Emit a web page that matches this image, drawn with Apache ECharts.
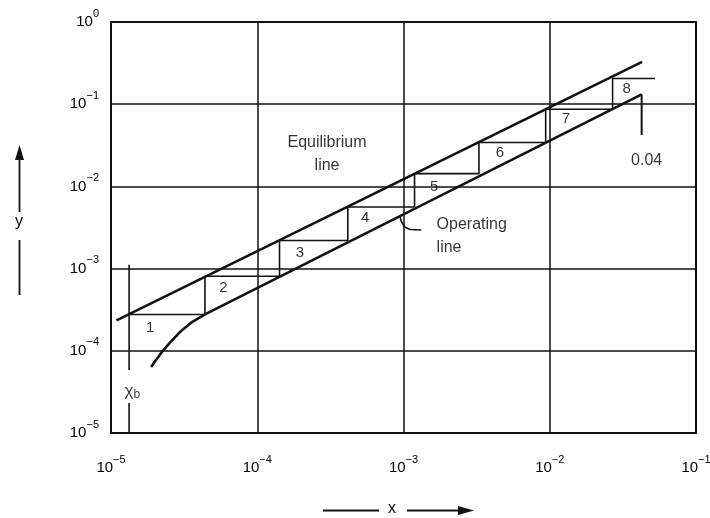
<!DOCTYPE html>
<html><head><meta charset="utf-8">
<script src="https://cdn.jsdelivr.net/npm/echarts@6/dist/echarts.min.js"></script>
<style>html,body{margin:0;padding:0;background:#fff}#c{width:710px;height:518px}</style>
</head><body><div id="c"></div>
<script>
// ---- data (log-log diagram) ----
const xTickValues = [1e-5, 1e-4, 1e-3, 1e-2, 1e-1];
const yTickValues = [1e-5, 1e-4, 1e-3, 1e-2, 1e-1, 1];
const equilibriumLine = [[1.09e-5, 2.35e-4], [0.0428, 0.328]];
const operatingLine = [[1.88e-5, 6.35e-5], [2.03e-5, 7.73e-5], [2.23e-5, 9.67e-5], [2.53e-5, 1.26e-4],
  [2.96e-5, 1.69e-4], [3.58e-5, 2.24e-4], [4.39e-5, 2.77e-4], [0.0425, 0.132]];
const stepX = [1.33e-5, 4.39e-5, 1.42e-4, 4.16e-4, 1.19e-3, 3.28e-3, 9.38e-3, 0.0269, 0.0524];
const stepY = [2.77e-4, 8.06e-4, 2.20e-3, 5.62e-3, 0.0143, 0.0342, 0.0867, 0.205];
const stageNames = ['1', '2', '3', '4', '5', '6', '7', '8'];
const stageLabelX = [1.85e-5, 5.86e-5, 1.96e-4, 5.46e-4, 1.62e-3, 4.57e-3, 0.0129, 0.0336];
const stageLabelY = [1.88e-4, 5.76e-4, 1.55e-3, 4.09e-3, 9.75e-3, 0.0253, 0.0655, 0.152];
const xbValue = 1.33e-5;
const xbUpperY = [1.11e-3, 5.84e-5];
const xbLowerY = [2.32e-5, 1e-5];
const xbLabel = [1.40e-5, 3.24e-5];
const feedX = 0.0425;
const feedY = [0.132, 0.0422];
const feedLabel = [0.046, 0.0204];
const leaderLine = [[9.46e-4, 4.30e-3], [9.69e-4, 3.69e-3], [1.02e-3, 3.21e-3], [1.11e-3, 2.99e-3], [1.32e-3, 2.95e-3]];
const equilibriumLabel = [3.00e-4, 0.0244];
const operatingLabel = [1.67e-3, 2.46e-3];

// ---- build ----
const stairs = [[stepX[0], stepY[0]]];
for (let i = 0; i < stepY.length; i++) {
  stairs.push([stepX[i + 1], stepY[i]]);
  if (i + 1 < stepY.length) stairs.push([stepX[i + 1], stepY[i + 1]]);
}
const FONT = '"Liberation Sans", Arial, Helvetica, sans-serif';
const INK = '#000';
const supRich = {
  b: { fontSize: 15, lineHeight: 28, verticalAlign: 'middle', fontFamily: FONT, color: INK },
  s: { fontSize: 11, lineHeight: 10, verticalAlign: 'top', fontFamily: FONT, color: INK }
};
function powLabel(v) {
  const e = Math.round(Math.log10(v));
  return '{b|10}{s|' + (e < 0 ? '\u2212' + (-e) : String(e)) + '}';
}
function lineSeries(data, width) {
  return { type: 'line', data: data, showSymbol: false, symbol: 'none', silent: true,
    lineStyle: { color: '#111', width: width }, z: 5 };
}
const labelData = stageNames.map((t, i) => ({ name: t, value: [stageLabelX[i], stageLabelY[i]] }));

const chart = echarts.init(document.getElementById('c'), null, { renderer: 'canvas' });
chart.setOption({
  animation: false,
  backgroundColor: '#fff',
  textStyle: { fontFamily: FONT },
  grid: { left: 111, right: 14, top: 22, bottom: 85, show: true, borderColor: '#111', borderWidth: 2,
    containLabel: false, outerBoundsMode: 'none' },
  xAxis: {
    type: 'log', logBase: 10, min: xTickValues[0], max: xTickValues[xTickValues.length - 1],
    axisLine: { show: false }, axisTick: { show: false },
    splitLine: { show: true, lineStyle: { color: '#111', width: 1.5 } },
    axisLabel: { margin: 21, formatter: powLabel, rich: supRich }
  },
  yAxis: {
    type: 'log', logBase: 10, min: yTickValues[0], max: yTickValues[yTickValues.length - 1],
    axisLine: { show: false }, axisTick: { show: false },
    splitLine: { show: true, lineStyle: { color: '#111', width: 1.5 } },
    axisLabel: { margin: 12, formatter: powLabel, rich: supRich }
  },
  series: [
    lineSeries(equilibriumLine, 2.6),
    lineSeries(operatingLine, 2.6),
    lineSeries(stairs, 1.6),
    lineSeries([[xbValue, xbUpperY[0]], [xbValue, xbUpperY[1]]], 1.6),
    lineSeries([[xbValue, xbLowerY[0]], [xbValue, xbLowerY[1]]], 1.6),
    lineSeries([[feedX, feedY[0]], [feedX, feedY[1]]], 2),
    lineSeries(leaderLine, 1.6),
    {
      type: 'scatter', silent: true, symbolSize: 1, itemStyle: { color: 'transparent' }, z: 6,
      label: { show: true, position: 'inside', formatter: '{b}', fontSize: 15, color: INK, fontFamily: FONT,
        textBorderWidth: 0 },
      data: labelData.concat([
        { name: 'Equilibrium\nline', value: equilibriumLabel, label: { fontSize: 16, lineHeight: 23 } },
        { name: '0.04', value: feedLabel, label: { fontSize: 16 } },
        { name: '{c|\u03c7}{s|b}', value: xbLabel, label: { rich: {
          c: { fontSize: 17, lineHeight: 20, fontFamily: FONT, color: INK },
          s: { fontSize: 12, lineHeight: 14, verticalAlign: 'bottom', fontFamily: FONT, color: INK } } } },
        { name: 'Operating\nline', value: operatingLabel,
          label: { position: 'right', distance: 0, align: 'left', fontSize: 16, lineHeight: 23 } }
      ])
    }
  ],
  graphic: [
    { type: 'text', x: 19, y: 222, style: { text: 'y', font: '16px ' + FONT, fill: INK, align: 'center', verticalAlign: 'middle' } },
    { type: 'line', shape: { x1: 19.5, y1: 212, x2: 19.5, y2: 156 }, style: { stroke: '#111', lineWidth: 1.8 } },
    { type: 'polygon', shape: { points: [[19.5, 145], [15, 160], [24, 160]] }, style: { fill: '#111' } },
    { type: 'line', shape: { x1: 19.5, y1: 240, x2: 19.5, y2: 295 }, style: { stroke: '#111', lineWidth: 1.8 } },
    { type: 'text', x: 392, y: 509, style: { text: 'x', font: '16px ' + FONT, fill: INK, align: 'center', verticalAlign: 'middle' } },
    { type: 'line', shape: { x1: 323, y1: 510.5, x2: 379, y2: 510.5 }, style: { stroke: '#111', lineWidth: 1.8 } },
    { type: 'line', shape: { x1: 407, y1: 510.5, x2: 462, y2: 510.5 }, style: { stroke: '#111', lineWidth: 1.8 } },
    { type: 'polygon', shape: { points: [[474, 510.5], [458, 506], [458, 515]] }, style: { fill: '#111' } }
  ]
});
</script></body></html>
